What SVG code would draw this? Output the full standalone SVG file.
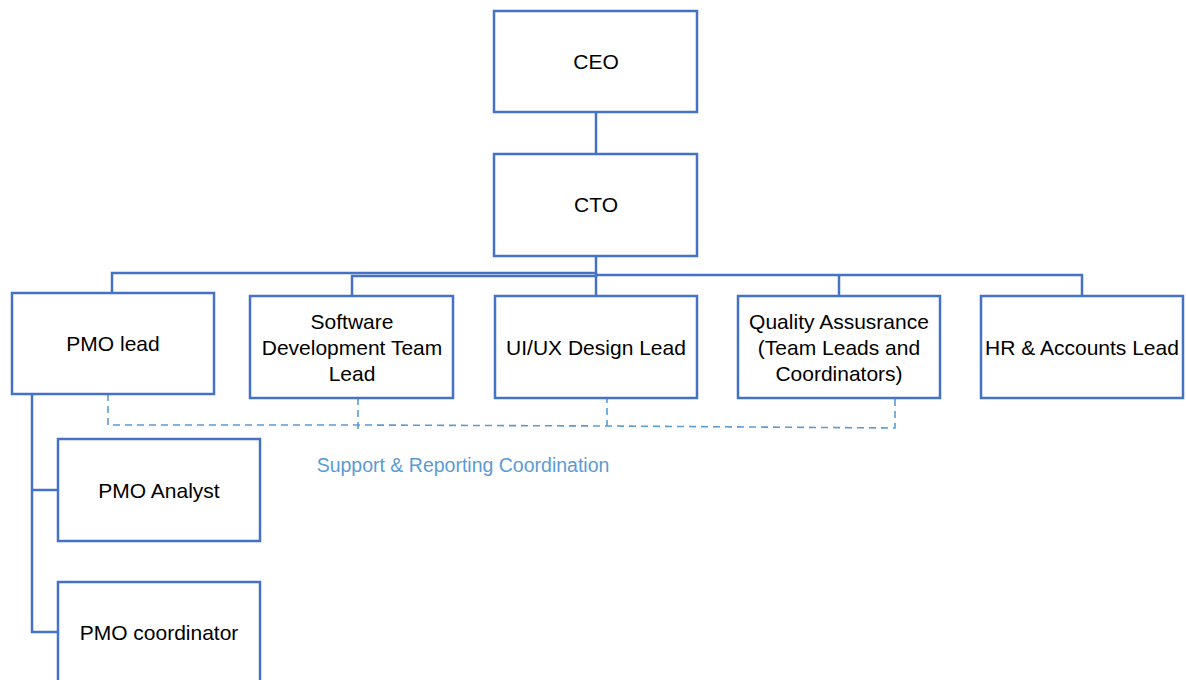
<svg xmlns="http://www.w3.org/2000/svg" width="1186" height="680" viewBox="0 0 1186 680">
  <style>
    .box { fill: #ffffff; stroke: #4472C4; stroke-width: 2.5; }
    .lbl { font-family: "Liberation Sans", Arial, sans-serif; font-size: 21px; fill: #000000; text-anchor: middle; dominant-baseline: central; }
    .link { fill: none; stroke: #4472C4; stroke-width: 2.5; }
    .dash { fill: none; stroke: #5B9BD5; stroke-width: 1.6; stroke-dasharray: 7 5; }
    .note { font-family: "Liberation Sans", Arial, sans-serif; font-size: 19.5px; fill: #5B9BD5; text-anchor: middle; dominant-baseline: central; }
  </style>
  <rect width="1186" height="680" fill="#ffffff"/>

  <g id="connectors">
    <path class="link" d="M596 112 V154"/>
    <path class="link" d="M596 256 V273 H112 V293"/>
    <path class="link" d="M596 273 V276 H352 V296"/>
    <path class="link" d="M596 275 H1082 V296"/>
    <path class="link" d="M596 275 V296"/>
    <path class="link" d="M839 275 V296"/>
    <path class="link" d="M32 394 V632 H58"/>
    <path class="link" d="M32 490 H58"/>
    <path class="dash" d="M108 394 V425 L358 425 L607 426 L895 428 V398"/>
    <path class="dash" d="M358 398 V429"/>
    <path class="dash" d="M607 396 V426"/>
    <text class="note" x="463" y="465">Support &amp; Reporting Coordination</text>
  </g>

  <g id="ceo">
    <rect class="box" x="494" y="11" width="203" height="101"/>
    <text class="lbl" x="596" y="61">CEO</text>
  </g>
  <g id="cto">
    <rect class="box" x="494" y="154" width="203" height="102"/>
    <text class="lbl" x="596" y="204">CTO</text>
  </g>
  <g id="pmo-lead">
    <rect class="box" x="12" y="293" width="202" height="101"/>
    <text class="lbl" x="113" y="343">PMO lead</text>
  </g>
  <g id="software-dev">
    <rect class="box" x="250" y="296" width="203" height="102"/>
    <text class="lbl" x="352" y="321">Software</text>
    <text class="lbl" x="352" y="347">Development Team</text>
    <text class="lbl" x="352" y="373">Lead</text>
  </g>
  <g id="uiux">
    <rect class="box" x="495" y="296" width="202" height="102"/>
    <text class="lbl" x="596" y="347">UI/UX Design Lead</text>
  </g>
  <g id="qa">
    <rect class="box" x="738" y="296" width="202" height="102"/>
    <text class="lbl" x="839" y="321">Quality Assusrance</text>
    <text class="lbl" x="839" y="347">(Team Leads and</text>
    <text class="lbl" x="839" y="373">Coordinators)</text>
  </g>
  <g id="hr">
    <rect class="box" x="981" y="296" width="202" height="102"/>
    <text class="lbl" x="1082" y="347">HR &amp; Accounts Lead</text>
  </g>
  <g id="pmo-analyst">
    <rect class="box" x="58" y="439" width="202" height="102"/>
    <text class="lbl" x="159" y="490">PMO Analyst</text>
  </g>
  <g id="pmo-coordinator">
    <rect class="box" x="58" y="582" width="202" height="102"/>
    <text class="lbl" x="159" y="632">PMO coordinator</text>
  </g>
</svg>
